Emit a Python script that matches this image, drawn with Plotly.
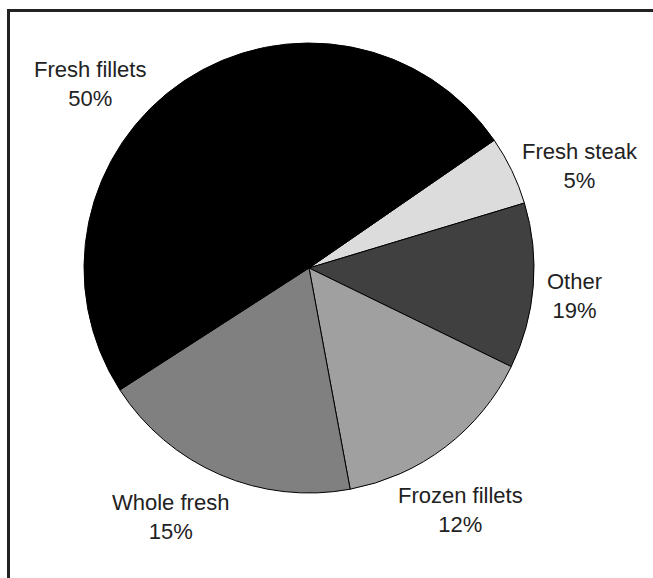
import plotly.graph_objects as go

# Data (clockwise order starting from the upper-right boundary)
categories = ["Fresh steak", "Other", "Frozen fillets", "Whole fresh", "Fresh fillets"]
values = [5, 12, 15, 19, 50]
pct_labels = ["5%", "19%", "12%", "15%", "50%"]

colors = ["#dcdcdc", "#404040", "#a0a0a0", "#808080", "#000000"]

W, H = 653, 578
# label centre positions in pixels (layout)
label_pos = [(580, 166), (574, 296), (460, 510), (171, 517), (90, 84)]

fig = go.Figure()
fig.add_trace(go.Pie(
    labels=categories,
    values=values,
    sort=False,
    direction="clockwise",
    rotation=55.4,
    marker=dict(colors=colors, line=dict(color="#000000", width=1)),
    textinfo="none",
    hoverinfo="skip",
    showlegend=False,
    domain=dict(x=[84 / W, 534 / W], y=[1 - 493 / H, 1 - 43 / H]),
))

annotations = []
for cat, pct, (px, py) in zip(categories, pct_labels, label_pos):
    annotations.append(dict(
        x=px / W, y=1 - py / H, xref="paper", yref="paper",
        text=f"{cat}<br>{pct}", showarrow=False,
        xanchor="center", yanchor="middle", align="center",
        font=dict(family="Liberation Sans, Arial, sans-serif", size=22, color="#222222"),
    ))

fig.update_layout(
    width=W, height=H,
    margin=dict(l=0, r=0, t=0, b=0),
    paper_bgcolor="white", plot_bgcolor="white",
    annotations=annotations,
    shapes=[dict(type="rect", xref="paper", yref="paper",
                 x0=8.5 / W, x1=1.2, y0=-0.2, y1=1 - 10.5 / H,
                 line=dict(color="#222222", width=3), fillcolor="rgba(0,0,0,0)")],
)

fig.write_html("out.html")
